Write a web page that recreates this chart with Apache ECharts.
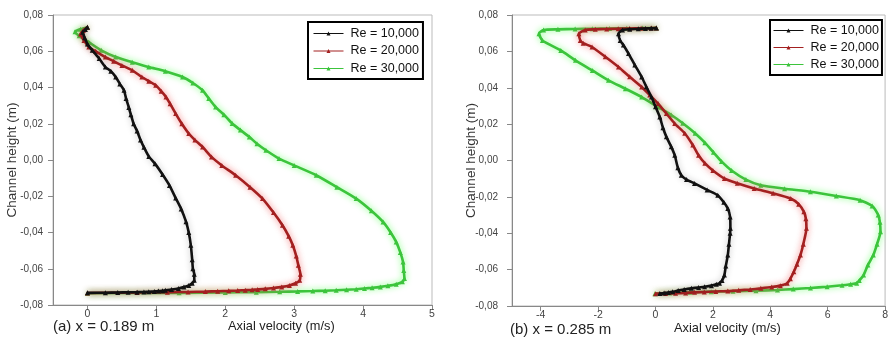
<!DOCTYPE html>
<html lang="en">
<head>
    <meta charset="UTF-8">
    <title>Axial velocity profiles</title>
    <script src="https://cdn.jsdelivr.net/npm/echarts@6/dist/echarts.min.js"></script>
    <style>
        html, body { margin: 0; padding: 0; background: #fff; }
        #chart { width: 891px; height: 337px; }
    </style>
</head>
<body>
<div id="chart"></div>
<script>
    /* legend names */
    var names = ['Re = 10,000', 'Re = 20,000', 'Re = 30,000'];

    /* tick labels */
    var yTicks = [-0.08, -0.06, -0.04, -0.02, 0, 0.02, 0.04, 0.06, 0.08];
    var xTicksA = [0, 1, 2, 3, 4, 5];
    var xTicksB = [-4, -2, 0, 2, 4, 6, 8];

    /* (a) x = 0.189 m : [axial velocity, channel height] */
    var a10 = [[0,-0.0733],[0.26,-0.0732],[0.44,-0.0731],[0.59,-0.073],[0.72,-0.0729],[0.82,-0.0728],[0.89,-0.0727],[0.97,-0.0725],[1.03,-0.0723],[1.09,-0.0721],[1.13,-0.0719],[1.22,-0.0715],[1.32,-0.0709],[1.4,-0.0701],[1.47,-0.0692],[1.52,-0.068],[1.55,-0.0664],[1.55,-0.063],[1.53,-0.06],[1.52,-0.055],[1.5,-0.047],[1.47,-0.04],[1.43,-0.034],[1.36,-0.027],[1.28,-0.021],[1.19,-0.014],[1.09,-0.008],[0.98,-0.002],[0.89,0.002],[0.82,0.007],[0.77,0.011],[0.72,0.016],[0.67,0.02],[0.63,0.025],[0.6,0.029],[0.56,0.034],[0.53,0.0385],[0.47,0.042],[0.41,0.0458],[0.34,0.049],[0.26,0.0513],[0.17,0.056],[0.07,0.0605],[0,0.064],[-0.04,0.0675],[-0.07,0.0705],[-0.03,0.072],[0,0.0733]];
    var a20 = [[0,-0.0734],[0.72,-0.0731],[1.16,-0.0729],[1.46,-0.0728],[1.71,-0.0726],[1.89,-0.0724],[2.05,-0.0722],[2.18,-0.072],[2.29,-0.0718],[2.39,-0.0716],[2.47,-0.0714],[2.58,-0.0711],[2.7,-0.0706],[2.82,-0.07],[2.93,-0.0692],[3.02,-0.068],[3.08,-0.0664],[3.09,-0.063],[3.06,-0.058],[3.03,-0.053],[2.98,-0.047],[2.92,-0.042],[2.83,-0.036],[2.7,-0.029],[2.54,-0.0213],[2.36,-0.015],[2.15,-0.0084],[1.95,-0.003],[1.8,0.0017],[1.67,0.0072],[1.56,0.011],[1.47,0.0146],[1.37,0.02],[1.28,0.0256],[1.2,0.031],[1.14,0.0348],[1.07,0.038],[0.99,0.0412],[0.89,0.0435],[0.79,0.0458],[0.65,0.0495],[0.5,0.0522],[0.38,0.0545],[0.26,0.0568],[0.12,0.06],[0.02,0.0623],[-0.05,0.066],[-0.1,0.0695],[-0.06,0.0715],[0,0.0733]];
    var a30 = [[0,-0.0735],[1.33,-0.0733],[2,-0.0731],[2.45,-0.0729],[2.79,-0.0727],[3.05,-0.0725],[3.27,-0.0723],[3.45,-0.0721],[3.61,-0.0719],[3.76,-0.0716],[3.9,-0.0713],[4.02,-0.0709],[4.13,-0.0705],[4.25,-0.07],[4.36,-0.0694],[4.48,-0.0685],[4.57,-0.0672],[4.6,-0.0654],[4.59,-0.061],[4.58,-0.0563],[4.54,-0.051],[4.48,-0.0452],[4.4,-0.04],[4.29,-0.0342],[4.12,-0.028],[3.9,-0.0213],[3.62,-0.015],[3.32,-0.0084],[3,-0.003],[2.78,0.0008],[2.59,0.0054],[2.46,0.009],[2.35,0.0127],[2.22,0.0165],[2.1,0.0201],[1.98,0.025],[1.86,0.0292],[1.76,0.034],[1.67,0.0385],[1.53,0.0425],[1.38,0.0458],[1.13,0.049],[0.89,0.0513],[0.65,0.054],[0.41,0.0568],[0.2,0.0605],[0.02,0.065],[-0.12,0.0685],[-0.18,0.0708],[-0.1,0.0722],[0,0.0733]];

    /* (b) x = 0.285 m */
    var b10 = [[0.15,-0.0731],[0.3,-0.0729],[0.45,-0.0726],[0.6,-0.0722],[0.79,-0.0715],[1,-0.0709],[1.25,-0.0703],[1.5,-0.0698],[1.71,-0.0694],[1.95,-0.0688],[2.12,-0.0681],[2.23,-0.0675],[2.32,-0.066],[2.4,-0.063],[2.45,-0.058],[2.52,-0.052],[2.56,-0.046],[2.6,-0.04],[2.61,-0.0373],[2.6,-0.031],[2.52,-0.0264],[2.38,-0.023],[2.17,-0.0191],[1.8,-0.0162],[1.36,-0.0126],[1.08,-0.0105],[0.9,-0.0081],[0.78,-0.004],[0.67,0.0029],[0.55,0.0075],[0.38,0.013],[0.26,0.018],[0.15,0.0239],[0,0.0295],[-0.14,0.0349],[-0.32,0.0405],[-0.48,0.0459],[-0.72,0.0525],[-0.94,0.0588],[-1.12,0.0635],[-1.23,0.066],[-1.29,0.0697],[-1.15,0.0718],[-0.9,0.0722],[-0.6,0.0724],[-0.35,0.0726],[-0.15,0.0727],[0.03,0.0728]];
    var b20 = [[0,-0.0732],[0.35,-0.0731],[0.7,-0.073],[1.05,-0.0728],[1.36,-0.0725],[1.7,-0.0723],[2.1,-0.072],[2.52,-0.0718],[2.9,-0.0714],[3.3,-0.0709],[3.67,-0.0703],[4.05,-0.0696],[4.35,-0.0688],[4.59,-0.0675],[4.7,-0.065],[4.82,-0.0612],[4.93,-0.057],[5.05,-0.052],[5.15,-0.046],[5.26,-0.0373],[5.24,-0.032],[5.17,-0.0282],[4.99,-0.024],[4.71,-0.0209],[4.1,-0.018],[3.44,-0.0154],[2.85,-0.0125],[2.4,-0.0099],[2,-0.0055],[1.72,-0.0015],[1.5,0.0029],[1.3,0.0085],[1.02,0.015],[0.67,0.0203],[0.38,0.0258],[0.09,0.0313],[-0.2,0.036],[-0.48,0.0404],[-0.9,0.046],[-1.29,0.0514],[-1.75,0.057],[-2.21,0.0624],[-2.52,0.0645],[-2.62,0.066],[-2.67,0.0697],[-2.45,0.0718],[-2.1,0.0721],[-1.7,0.0723],[-1.3,0.0724],[-0.9,0.0726],[-0.5,0.0727],[-0.15,0.0728],[0.03,0.0729]];
    var b30 = [[-0.02,-0.0732],[0.5,-0.0729],[1.2,-0.0725],[1.94,-0.0721],[2.7,-0.0719],[3.5,-0.0716],[4.25,-0.0712],[4.8,-0.0707],[5.4,-0.0701],[5.98,-0.0694],[6.5,-0.0686],[6.8,-0.068],[7.01,-0.0675],[7.1,-0.066],[7.25,-0.063],[7.4,-0.0575],[7.59,-0.052],[7.72,-0.046],[7.84,-0.0392],[7.82,-0.034],[7.76,-0.03],[7.55,-0.025],[7.13,-0.0218],[6.3,-0.0195],[5.4,-0.0172],[4.5,-0.0155],[3.67,-0.0136],[3.15,-0.0105],[2.65,-0.0055],[2.3,-0.0005],[2.02,0.0045],[1.72,0.0098],[1.38,0.015],[0.95,0.0205],[0.55,0.025],[0.09,0.0294],[-0.48,0.0349],[-1.05,0.0395],[-1.64,0.0441],[-2.2,0.0495],[-2.79,0.0551],[-3.3,0.0605],[-3.94,0.066],[-4.06,0.0697],[-3.9,0.0718],[-3.4,0.0721],[-2.8,0.0723],[-2.2,0.0724],[-1.6,0.0726],[-1,0.0727],[-0.45,0.0728],[0.03,0.0729]];

    var colors = ['#111111', '#a32020', '#3cc43c'];
    var glows = ['rgba(0,0,0,0.25)', 'rgba(240,90,90,0.85)', 'rgba(110,255,110,0.95)'];

    var font = '"Liberation Sans", Arial, sans-serif';

    function makeSeries(name, data, idx, panel) {
        return {
            name: name,
            type: 'line',
            xAxisIndex: panel,
            yAxisIndex: panel,
            data: data,
            symbol: 'triangle',
            symbolSize: 5,
            smooth: 0.2,
            color: colors[idx],
            lineStyle: { width: 2.6, color: colors[idx], shadowBlur: 6, shadowColor: glows[idx] },
            itemStyle: { color: colors[idx] },
            emphasis: { disabled: true },
            z: 3 - idx
        };
    }

    function yAxisOpt(grid, margin) {
        return {
            type: 'value',
            gridIndex: grid,
            min: -0.08,
            max: 0.08,
            interval: 0.02,
            name: 'Channel height (m)',
            nameLocation: 'middle',
            nameGap: 34,
            nameRotate: 90,
            nameMoveOverlap: false,
            nameTextStyle: { fontFamily: font, fontSize: 13.5, color: '#333' },
            axisLine: { show: true, onZero: false, lineStyle: { color: '#888' } },
            axisTick: { show: true, inside: false, length: 5, lineStyle: { color: '#888' } },
            axisLabel: {
                margin: margin,
                fontFamily: font, fontSize: 10, color: '#444',
                formatter: function (v) { return v.toFixed(2).replace('.', ','); }
            },
            splitLine: { show: false }
        };
    }

    function xAxisOpt(grid, min, max, ticks) {
        return {
            type: 'value',
            gridIndex: grid,
            min: min,
            max: max,
            axisLine: { show: true, onZero: false, lineStyle: { color: '#888' } },
            axisTick: { show: true, length: 5, customValues: ticks, lineStyle: { color: '#888' } },
            axisLabel: {
                margin: 4,
                customValues: ticks,
                fontFamily: font, fontSize: 10.5, color: '#444'
            },
            splitLine: { show: false }
        };
    }

    function legendOpt(left, top, pad, gap) {
        return {
            data: names,
            orient: 'vertical',
            left: left,
            top: top,
            padding: pad,
            itemGap: gap,
            itemWidth: 30,
            itemHeight: 5,
            selectedMode: false,
            borderColor: '#000',
            borderWidth: 2,
            backgroundColor: '#fff',
            lineStyle: { width: 1, shadowBlur: 0 },
            textStyle: { fontFamily: font, fontSize: 12.5, color: '#111', padding: [0, 0, 0, 2] }
        };
    }

    var option = {
        animation: false,
        backgroundColor: '#fff',
        grid: [
            { left: 53, right: 459, top: 15, bottom: 32, show: true, borderColor: '#bbb', borderWidth: 1, backgroundColor: '#fff' },
            { left: 512, right: 1, top: 15, bottom: 31, show: true, borderColor: '#bbb', borderWidth: 1, backgroundColor: '#fff' }
        ],
        xAxis: [ xAxisOpt(0, -0.5, 5, xTicksA), xAxisOpt(1, -5, 8, xTicksB) ],
        yAxis: [ yAxisOpt(0, 10), yAxisOpt(1, 14) ],
        legend: [
            legendOpt(308, 22, [5, 4, 4, 5], 4.5),
            legendOpt(770, 20, [4, 3, 4, 3], 4)
        ],
        graphic: [
            { type: 'text', left: 53, top: 319, style: { text: '(a) x = 0.189 m', font: '15px ' + font, fill: '#222' } },
            { type: 'text', left: 228, top: 320, style: { text: 'Axial velocity (m/s)', font: '12.8px ' + font, fill: '#222' } },
            { type: 'text', left: 510, top: 322, style: { text: '(b) x = 0.285 m', font: '15px ' + font, fill: '#222' } },
            { type: 'text', left: 674, top: 322, style: { text: 'Axial velocity (m/s)', font: '12.8px ' + font, fill: '#222' } }
        ],
        series: [
            makeSeries(names[0], a10, 0, 0),
            makeSeries(names[1], a20, 1, 0),
            makeSeries(names[2], a30, 2, 0),
            makeSeries(names[0], b10, 0, 1),
            makeSeries(names[1], b20, 1, 1),
            makeSeries(names[2], b30, 2, 1)
        ]
    };

    var chart = echarts.init(document.getElementById('chart'));
    chart.setOption(option);
</script>
</body>
</html>
